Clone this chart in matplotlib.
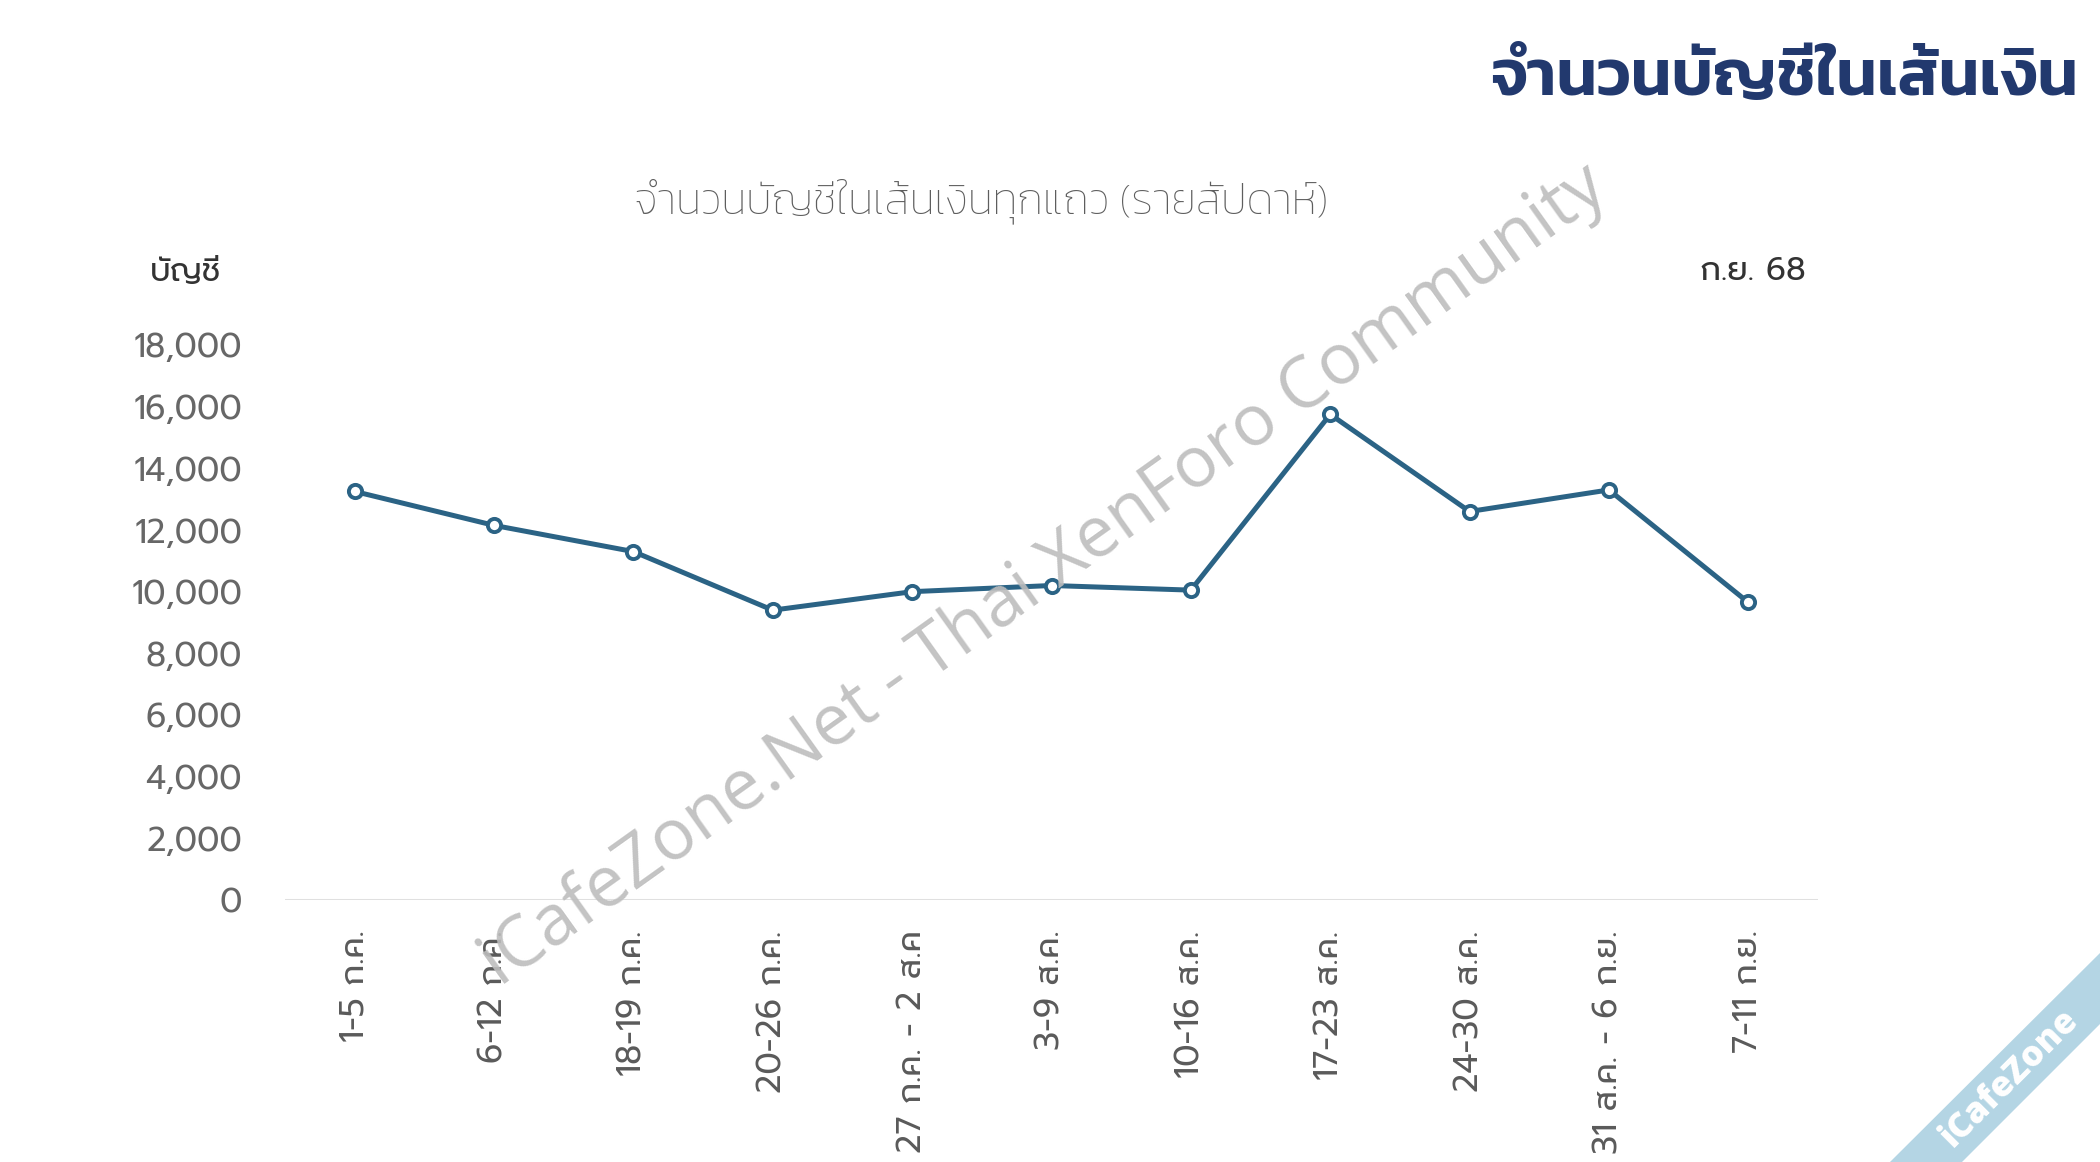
import matplotlib
matplotlib.use("Agg")
import matplotlib.pyplot as plt
from matplotlib.patches import Polygon

# ---- data ----
weeks = ["1-5 ก.ค.", "6-12 ก.ค.", "18-19 ก.ค.", "20-26 ก.ค.", "27 ก.ค. - 2 ส.ค",
         "3-9 ส.ค.", "10-16 ส.ค.", "17-23 ส.ค.", "24-30 ส.ค.", "31 ส.ค. - 6 ก.ย.", "7-11 ก.ย."]
accounts = [13250, 12150, 11300, 9400, 10000, 10200, 10050, 15750, 12600, 13300, 9650]
y_ticks = [0, 2000, 4000, 6000, 8000, 10000, 12000, 14000, 16000, 18000]
y_ticklabels = ["0", "2,000", "4,000", "6,000", "8,000", "10,000", "12,000", "14,000", "16,000", "18,000"]

title = "จำนวนบัญชีในเส้นเงิน"
subtitle = "จำนวนบัญชีในเส้นเงินทุกแถว (รายสัปดาห์)"
y_unit = "บัญชี"
period = "ก.ย. 68"
watermark = "iCafeZone.Net - Thai XenForo Community"
ribbon_text = "iCafeZone"

TICK_FONT = ["Prompt", "DejaVu Sans"]
plt.rcParams["font.family"] = TICK_FONT

fig = plt.figure(figsize=(21, 11.62), dpi=100)
fig.patch.set_facecolor("white")

ax = fig.add_axes([285/2100, 1-900/1162, (1818-285)/2100, (900-345)/1162])
x = list(range(len(weeks)))
line_color = "#2b6385"
ax.plot(x, accounts, color=line_color, lw=3.6, marker="o", ms=9.5, mfc="white",
        mec=line_color, mew=2.8, zorder=3, solid_joinstyle="round")
ax.axhline(0, color="#e0e0e0", lw=2.2, zorder=1)
ax.set_xlim(-0.5, len(weeks)-0.5)
ax.set_ylim(0, 18000)
for s in ax.spines.values():
    s.set_visible(False)
ax.set_yticks(y_ticks)
ax.set_yticklabels(y_ticklabels)
ax.set_xticks(x)
ax.set_xticklabels(weeks, rotation=90, va="top", ha="center")
ax.tick_params(axis="y", length=0, pad=31, labelsize=24, labelcolor="#676767")
ax.tick_params(axis="x", length=0, pad=22, labelsize=24, labelcolor="#5a5a5a")

# titles and annotations
fig.text(2078/2100, 1-80/1162, title, ha="right", va="center", fontsize=47,
         family=["Kanit", "DejaVu Sans"], fontweight="semibold", color="#22396e")
fig.text(981/2100, 1-201/1162, subtitle, ha="center", va="center", fontsize=31,
         family=["Kanit", "DejaVu Sans"], fontweight="light", color="#5e5e5e")
fig.text(186/2100, 1-272/1162, y_unit, ha="center", va="center", fontsize=23, color="#333333")
fig.text(1806/2100, 1-272/1162, period, ha="right", va="center", fontsize=23.5, color="#333333")

# watermark
fig.text(1044/2100, 1-576/1162, watermark, ha="center", va="center", rotation=35.5,
         fontsize=51, family=["Open Sans", "DejaVu Sans"], color="#bdbdbd", alpha=0.9,
         rotation_mode="anchor", zorder=10)

# corner ribbon
W, H = 2100, 1162
band = [(1890/W, 0), (1962/W, 0), (1.0, 1-1024/H), (1.0, 1-953/H)]
fig.patches.append(Polygon(band, closed=True, transform=fig.transFigure,
                           facecolor="#b4d5e4", edgecolor="none", zorder=5))
fig.text(2010/W, 1-1078/H, ribbon_text, ha="center", va="center", rotation=45,
         fontsize=25, fontweight="heavy", family=["Open Sans", "DejaVu Sans"],
         color="white", rotation_mode="anchor", zorder=6)

fig.savefig("out.png", dpi=100, facecolor="white")
